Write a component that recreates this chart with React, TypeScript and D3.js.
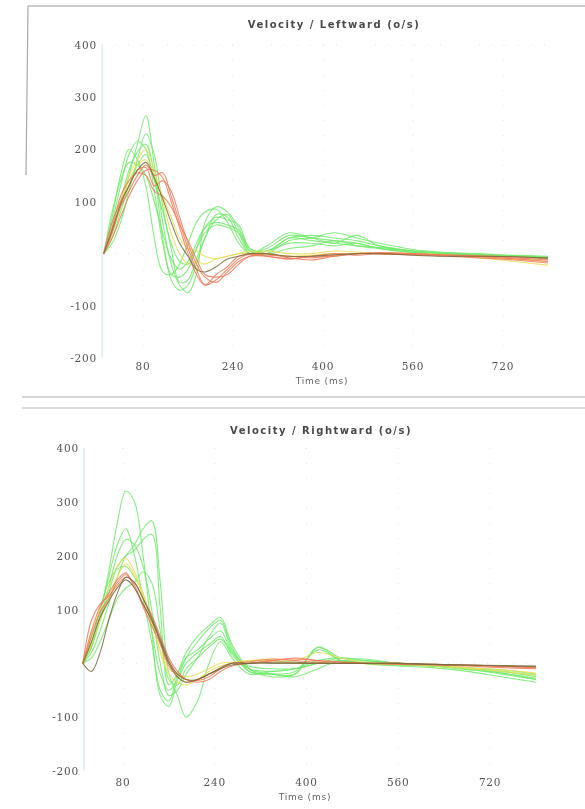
import React from "react"
import * as d3 from "d3"

// sample times (ms), shared by every trace
const times = [10, 25, 40, 55, 70, 85, 100, 115, 130, 145, 160, 175, 190, 210, 230, 250, 270, 300, 340, 380, 420, 460, 500, 560, 620, 680, 740, 800]

const xTicks = [80, 240, 400, 560, 720]
const yTicks = [400, 300, 200, 100, -100, -200]

// Leftward traces
const leftGreen = [
  [0, 40, 90, 150, 210, 265, 170, 60, -20, -60, -75, -40, 60, 90, 80, 50, 5, 10, 35, 30, 25, 20, 10, 3, 0, -3, -5, -8],
  [0, 60, 130, 190, 215, 200, 120, 20, -40, -45, -30, 10, 50, 70, 65, 55, 10, 5, 30, 35, 30, 25, 15, 5, 0, -2, -5, -10],
  [0, 70, 150, 200, 180, 130, 30, -35, -40, -20, 20, 60, 80, 85, 60, 20, 0, 15, 40, 30, 20, 35, 15, 5, 2, 0, -4, -6],
  [0, 30, 80, 130, 170, 190, 140, 80, 20, -15, -20, 10, 40, 55, 50, 40, 5, 0, 25, 30, 40, 30, 20, 8, 2, -2, -3, -5],
  [0, 20, 60, 120, 180, 230, 190, 90, 10, -55, -50, -10, 30, 75, 70, 30, 0, 5, 20, 20, 15, 20, 10, 2, 0, -3, -6, -10],
  [0, 80, 140, 175, 170, 150, 100, 40, -10, -30, -15, 20, 50, 60, 55, 45, 10, 0, 10, 15, 25, 15, 10, 5, 0, -2, -4, -8],
  [0, 40, 100, 160, 195, 210, 150, 30, -50, -70, -60, -20, 30, 65, 75, 40, 0, 0, 30, 25, 20, 15, 12, 5, 0, -3, -5, -8],
]
const leftRed = [
  [0, 40, 90, 120, 150, 170, 150, 155, 110, 60, 10, -30, -60, -50, -30, -10, 0, -5, -10, -5, -5, 0, 0, 0, -3, -5, -8, -12],
  [0, 60, 100, 130, 160, 165, 130, 140, 120, 70, 20, -20, -45, -55, -35, -15, -5, 0, -8, -12, -5, 0, 2, 0, -4, -6, -10, -15],
  [0, 30, 70, 110, 140, 160, 160, 145, 100, 50, 0, -40, -60, -40, -25, -5, -2, -3, -5, -8, -3, 0, 0, -2, -5, -8, -12, -18],
  [0, 50, 110, 140, 155, 150, 120, 110, 90, 55, 25, -10, -40, -45, -40, -20, -5, -5, -10, -5, 0, -3, 0, -2, -2, -4, -6, -10],
]
const leftYellow = [
  [0, 50, 100, 150, 180, 200, 160, 100, 40, 0, -20, -15, -20, -10, -5, 0, 5, 0, -5, -3, 0, 0, 2, 0, -3, -8, -15, -22],
  [0, 40, 90, 140, 170, 180, 150, 110, 70, 30, 10, 5, -5, -10, -5, 0, 0, 5, 0, 0, 5, 3, 0, 0, -2, -6, -10, -15],
]
const leftDark = [
  [0, 45, 95, 130, 160, 175, 145, 105, 60, 20, -5, -30, -35, -25, -10, -5, 0, 0, -5, -5, -2, 0, 0, -3, -5, -5, -6, -8],
]

// Rightward traces
const rightGreen = [
  [0, 30, 90, 170, 260, 320, 300, 200, 60, -60, -80, -30, 10, 40, 65, 80, 30, -15, -20, -15, 25, 5, 0, 0, -5, -10, -20, -30],
  [0, 20, 60, 110, 160, 200, 220, 250, 265, 150, -20, -60, -100, -70, 0, 40, 10, -20, -15, -10, 5, 10, 0, -5, -8, -15, -25, -35],
  [0, 40, 100, 160, 220, 250, 200, 120, 40, -50, -70, -20, 20, 50, 70, 85, 35, -10, -25, -20, 30, 5, 5, 0, -5, -10, -15, -25],
  [0, 30, 80, 130, 180, 200, 210, 230, 240, 100, -40, -20, 10, 25, 45, 60, 20, -15, -20, -25, -10, 5, 0, -3, -5, -12, -18, -28],
  [0, 50, 100, 150, 175, 180, 160, 130, 60, -20, -50, -30, 0, 20, 35, 50, 15, -10, -15, -10, 0, 10, 5, 0, -5, -8, -12, -20],
  [0, 10, 40, 80, 120, 140, 150, 170, 150, 60, -30, -40, -10, 10, 30, 45, 20, -5, -10, -10, 0, 5, 0, -3, -5, -10, -15, -22],
  [0, 35, 85, 140, 200, 230, 220, 180, 100, 0, -60, -50, -20, 10, 50, 75, 25, -10, -20, -20, 30, 10, 8, 0, -4, -10, -18, -30],
]
const rightRed = [
  [0, 60, 105, 130, 155, 168, 140, 110, 80, 40, 0, -20, -30, -32, -25, -10, 0, 0, 5, 8, 5, 2, 0, 0, -2, -4, -6, -8],
  [0, 80, 110, 125, 145, 160, 150, 120, 90, 50, 10, -15, -30, -35, -30, -15, -5, 0, 5, 10, 5, 3, 0, 0, -2, -3, -5, -8],
  [0, 50, 95, 120, 150, 165, 145, 105, 70, 35, -5, -25, -35, -30, -20, -10, 0, 3, 8, 5, 2, 0, 0, -2, -3, -5, -8, -10],
]
const rightYellow = [
  [0, 55, 100, 140, 180, 195, 170, 130, 80, 20, -20, -35, -40, -30, -15, -5, 0, 5, 8, 5, 20, 10, 2, 0, -3, -8, -12, -18],
  [0, 35, 80, 120, 160, 185, 165, 125, 75, 25, -10, -20, -25, -20, -10, 0, 2, 5, 5, 0, 0, 0, 0, -2, -5, -10, -15, -22],
]
const rightDark = [
  [0, -15, 20, 80, 130, 160, 150, 120, 85, 45, 5, -20, -30, -30, -20, -10, -3, 0, 0, 0, 0, 0, 0, 0, -2, -3, -4, -5],
  [0, 40, 85, 115, 140, 155, 140, 110, 80, 40, 0, -25, -35, -30, -20, -8, 0, 0, 2, 2, 0, 0, 0, 0, -2, -3, -5, -6],
]

const GREEN = "#72ea6c"
const RED = "#f07a5a"
const YELLOW = "#e6df5a"
const DARK = "#7d6b3c"

type Geo = {
  x0: number; x1: number; t0: number; t1: number
  yTop: number; yBot: number
  title: string; titleX: number; titleY: number
  labelX: number; tickY: number; timeX: number; timeY: number
}

const Panel = ({ geo, groups }: { geo: Geo; groups: { color: string; rows: number[][] }[] }) => {
  const x = d3.scaleLinear().domain([geo.t0, geo.t1]).range([geo.x0, geo.x1])
  const y = d3.scaleLinear().domain([-200, 400]).range([geo.yBot, geo.yTop])

  const line = d3.line<number>()
    .x((d, i) => x(times[i]))
    .y(d => y(d))
    .curve(d3.curveCatmullRom.alpha(0.5))

  return (
    <g>
      <text x={geo.titleX} y={geo.titleY} textAnchor="middle" fontFamily="DejaVu Sans" fontWeight="bold"
        fontSize={10} letterSpacing={1.5} fill="#4a4a4a">{geo.title}</text>

      {/* faint dotted grid */}
      {xTicks.map(t => (
        <line key={"gx" + t} x1={x(t)} x2={x(t)} y1={geo.yTop} y2={geo.yBot}
          stroke="#c8eef0" strokeDasharray="1 14" />
      ))}
      {[400, 0].map(v => (
        <line key={"gy" + v} x1={geo.x0} x2={geo.x1} y1={y(v)} y2={y(v)}
          stroke="#c8eef0" strokeDasharray="1 12" />
      ))}
      <line x1={geo.x0} x2={geo.x0} y1={geo.yTop} y2={geo.yBot} stroke="#cfe8ea" />

      {yTicks.map(v => (
        <text key={"yt" + v} x={geo.labelX} y={y(v) + 4} textAnchor="end" fontFamily="DejaVu Serif"
          fontSize={10.5} letterSpacing={0.8} fill="#555">{v}</text>
      ))}
      {xTicks.map(t => (
        <text key={"xt" + t} x={x(t)} y={geo.tickY} textAnchor="middle" fontFamily="DejaVu Serif"
          fontSize={10.5} letterSpacing={0.8} fill="#555">{t}</text>
      ))}
      <text x={geo.timeX} y={geo.timeY} textAnchor="middle" fontFamily="DejaVu Sans" fontSize={9}
        letterSpacing={0.8} fill="#666">Time (ms)</text>

      {groups.map((g, gi) => g.rows.map((r, ri) => (
        <path key={gi + "-" + ri} d={line(r) || ""} fill="none" stroke={g.color}
          strokeWidth={1.1} strokeOpacity={0.85} />
      )))}
    </g>
  )
}

const topGeo: Geo = {
  x0: 102, x1: 548, t0: 7, t1: 800, yTop: 45, yBot: 358,
  title: "Velocity / Leftward (o/s)", titleX: 334, titleY: 28,
  labelX: 97, tickY: 370, timeX: 322, timeY: 384,
}
const botGeo: Geo = {
  x0: 84, x1: 536, t0: 12, t1: 800, yTop: 448, yBot: 771,
  title: "Velocity / Rightward (o/s)", titleX: 321, titleY: 434,
  labelX: 79, tickY: 786, timeX: 305, timeY: 800,
}

export default function App() {
  return (
    <svg width={585} height={809} style={{ position: "absolute", left: 0, top: 0, background: "#fff" }}>
      <defs>
        <filter id="soft" x="-5%" y="-5%" width="110%" height="110%">
          <feGaussianBlur stdDeviation="0.5" />
        </filter>
      </defs>
      <g filter="url(#soft)">
        {/* photo frame edges */}
        <line x1={28} x2={585} y1={6} y2={6} stroke="#999" strokeWidth={1.2} />
        <line x1={28} x2={26} y1={6} y2={175} stroke="#aaa" strokeWidth={1.2} />
        <line x1={22} x2={585} y1={397} y2={397} stroke="#aaa" strokeWidth={1.2} />
        <line x1={22} x2={585} y1={408} y2={408} stroke="#bbb" strokeWidth={1.2} />

        <Panel geo={topGeo} groups={[
          { color: GREEN, rows: leftGreen },
          { color: YELLOW, rows: leftYellow },
          { color: RED, rows: leftRed },
          { color: DARK, rows: leftDark },
        ]} />
        <Panel geo={botGeo} groups={[
          { color: GREEN, rows: rightGreen },
          { color: YELLOW, rows: rightYellow },
          { color: RED, rows: rightRed },
          { color: DARK, rows: rightDark },
        ]} />
      </g>
    </svg>
  )
}
